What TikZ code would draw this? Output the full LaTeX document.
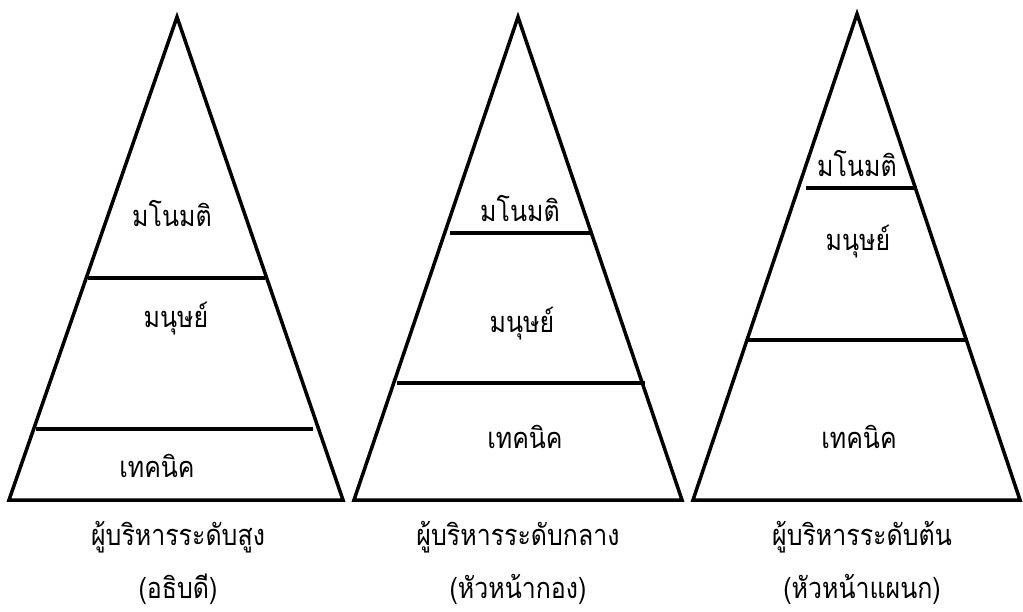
\documentclass[tikz,border=0pt]{standalone}
\usepackage{fontspec}
\newfontfamily\thaifont[Script=Thai]{Loma}
\newcommand{\thtxt}[1]{\scalebox{0.86}[1]{#1}}
\begin{document}
\begin{tikzpicture}[x=1pt,y=-1pt,
  tri/.style={draw=black,line width=3.5pt,line join=miter},
  divline/.style={draw=black,line width=3.5pt},
  lbl/.style={font=\thaifont\fontsize{29}{32}\selectfont,inner sep=0pt,anchor=base}]
\useasboundingbox (0,0) rectangle (1023,612);
% Triangle 1
\draw[tri] (177,17) -- (343,500) -- (9,500) -- cycle;
\draw[divline] (88,278) -- (265,278);
\draw[divline] (36,429) -- (313,429);
\node[lbl] (a1) at (172,227) {\thtxt{มโนมติ}};
\node[lbl] (a2) at (176,328) {\thtxt{มนุษย์}};
\node[lbl] (a3) at (157,477) {\thtxt{เทคนิค}};
\node[lbl] (a4) at (178,545) {\thtxt{ผู้บริหารระดับสูง}};
\node[lbl] (a5) at (178,598) {\thtxt{(อธิบดี)}};
% Triangle 2
\draw[tri] (518,17) -- (682,500) -- (354,500) -- cycle;
\draw[divline] (450,233) -- (592,233);
\draw[divline] (397,383) -- (645,383);
\node[lbl] (b1) at (520,222) {\thtxt{มโนมติ}};
\node[lbl] (b2) at (522,333) {\thtxt{มนุษย์}};
\node[lbl] (b3) at (525,448) {\thtxt{เทคนิค}};
\node[lbl] (b4) at (518,545) {\thtxt{ผู้บริหารระดับกลาง}};
\node[lbl] (b5) at (518,598) {\thtxt{(หัวหน้ากอง)}};
% Triangle 3
\draw[tri] (857,14) -- (1020,500) -- (693,500) -- cycle;
\draw[divline] (806,188) -- (917,188);
\draw[divline] (746,340) -- (968,340);
\node[lbl] (c1) at (857,177) {\thtxt{มโนมติ}};
\node[lbl] (c2) at (858,251) {\thtxt{มนุษย์}};
\node[lbl] (c3) at (859,448) {\thtxt{เทคนิค}};
\node[lbl] (c4) at (862,545) {\thtxt{ผู้บริหารระดับต้น}};
\node[lbl] (c5) at (862,598) {\thtxt{(หัวหน้าแผนก)}};
\end{tikzpicture}
\end{document}
